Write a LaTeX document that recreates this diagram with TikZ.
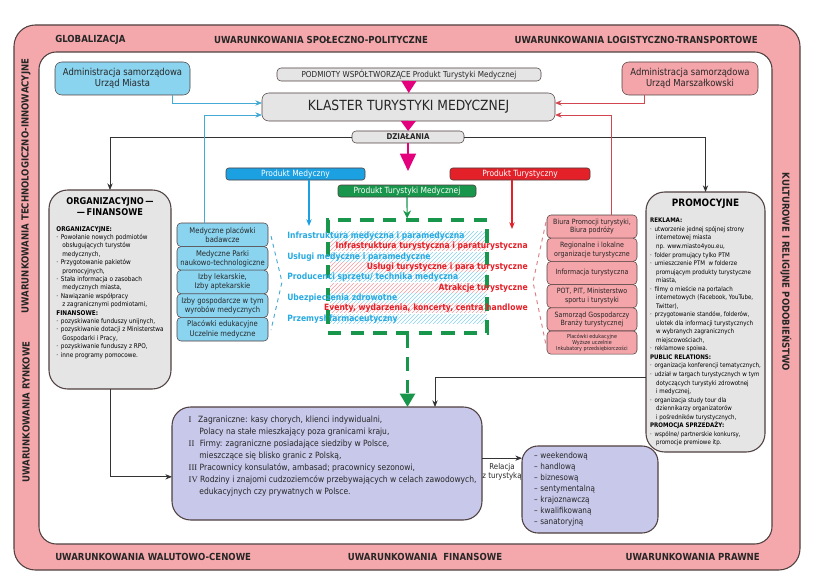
\documentclass[tikz,border=0pt]{standalone}
\usepackage{fontspec}
\setmainfont{DejaVu Sans}[FakeStretch=0.88]
\newfontfamily\szeryf{Liberation Serif}
\usetikzlibrary{positioning,calc,patterns,arrows.meta}

\definecolor{ramka}{RGB}{245,168,172}
\definecolor{obrys}{RGB}{80,64,64}
\definecolor{jnieb}{RGB}{138,212,240}
\definecolor{nieb}{RGB}{27,160,226}
\definecolor{tnieb}{RGB}{41,171,226}
\definecolor{lnieb}{RGB}{70,170,215}
\definecolor{czer}{RGB}{228,32,40}
\definecolor{lczer}{RGB}{210,70,80}
\definecolor{rozowy}{RGB}{244,165,170}
\definecolor{ziel}{RGB}{24,150,76}
\definecolor{szary}{RGB}{229,229,229}
\definecolor{fiolet}{RGB}{200,200,234}
\definecolor{roz}{RGB}{228,0,125}

\newcommand{\rozm}[2]{\fontsize{#1}{#2}\selectfont}
\newcommand{\kr}{·\hspace{2pt}}
\newcommand{\wc}{\hspace*{4.5pt}}

\begin{document}
\begin{tikzpicture}[x=0.75pt, y=-0.75pt,
  main/.style = {draw=obrys, rounded corners=3pt, inner sep=1pt, align=center, outer sep=0pt, text=black!85},
  sz/.style = {main, fill=szary},
  med/.style = {main, fill=jnieb, minimum width=68.25pt, minimum height=17.7pt, font=\rozm{5.8}{6.8}},
  tur/.style = {main, fill=rozowy, minimum width=67.5pt, minimum height=17.4pt, font=\rozm{5.4}{6.4}},
  prod/.style = {draw=obrys, rounded corners=2pt, text=white, minimum height=9pt, inner sep=0pt, outer sep=0pt, font=\rozm{6.4}{7}},
  tyt/.style = {font=\bfseries\rozm{7.3}{8}, text=black!85, inner sep=0pt},
  tekst/.style = {font=\bfseries\rozm{6.5}{7}, inner sep=0pt},
  strz/.style = {draw=roz, line width=1.2pt},
  lin/.style = {draw=black!80, line width=0.6pt, -{Stealth[length=5pt,width=4pt]}},
  nlin/.style = {draw=lnieb, line width=0.6pt, -{Stealth[length=5pt,width=4pt]}},
  clin/.style = {draw=lczer, line width=0.6pt, -{Stealth[length=5pt,width=4pt]}}]

\useasboundingbox (0,0) rectangle (822,585);
\fill[white] (0,0) rectangle (822,585);

% ramka uwarunkowan
\draw[obrys, fill=ramka, line width=0.8pt, rounded corners=16pt] (14,25) rectangle (800,570);
\draw[obrys, fill=white, line width=0.8pt, rounded corners=13pt] (39,52) rectangle (772,544);

\node[tyt, anchor=west] (g1) at (55,40) {GLOBALIZACJA};
\node[tyt] (g2) at (321,40) {UWARUNKOWANIA SPOŁECZNO-POLITYCZNE};
\node[tyt, anchor=east] (g3) at (758,40) {UWARUNKOWANIA LOGISTYCZNO-TRANSPORTOWE};
\node[tyt, anchor=west] (d1) at (55,557) {UWARUNKOWANIA WALUTOWO-CENOWE};
\node[tyt] (d2) at (425,557) {UWARUNKOWANIA \ FINANSOWE};
\node[tyt, anchor=east] (d3) at (760,557) {UWARUNKOWANIA PRAWNE};
\node[tyt, rotate=90] (l1) at (26,186) {UWARUNKOWANIA TECHNOLOGICZNO-INNOWACYJNE};
\node[tyt, rotate=90] (l2) at (26,412) {UWARUNKOWANIA RYNKOWE};
\node[tyt, rotate=-90] (p1) at (786,272) {KULTUROWE I RELIGIJNE PODOBIEŃSTWO};

% gora
\node[main, fill=jnieb, rounded corners=5pt, minimum width=101.25pt, minimum height=24.75pt, font=\rozm{7.2}{8.6}] (miasto) at (122.5,78.5) {Administracja samorządowa\\Urząd Miasta};
\node[main, fill=rozowy, rounded corners=5pt, minimum width=102pt, minimum height=24.75pt, font=\rozm{7.2}{8.6}] (marsz) at (690,78.5) {Administracja samorządowa\\Urząd Marszałkowski};
\node[sz, minimum width=198pt, minimum height=9.75pt, inner sep=0pt, font=\rozm{6.2}{7}] (podm) at (409,74.5) {PODMIOTY WSPÓŁTWORZĄCE Produkt Turystyki Medycznej};
\node[sz, rounded corners=5pt, minimum width=219.75pt, minimum height=21pt, font=\rozm{10.5}{12}] (klaster) at (408.5,107) {KLASTER TURYSTYKI MEDYCZNEJ};
\node[sz, minimum width=84pt, minimum height=9pt, inner sep=0pt, font=\bfseries\rozm{6}{7}] (dzial) at (408,137) {DZIAŁANIA};
\coordinate (dcel) at (408,171);

% dzialania organizacyjno-finansowe
\node[sz, rounded corners=14pt, line width=0.8pt, minimum width=91.5pt, minimum height=149.25pt] (org) at (110,289.5) {};
\node[font=\bfseries\rozm{7}{8.3}, align=center, below=2pt of org.north] (orgh) {ORGANIZACYJNO\,—\\—\,FINANSOWE};
\node[font=\rozm{4.9}{6.3}, align=left, below=1pt of orgh] (orgl) {\textbf{ORGANIZACYJNE:}\\
\kr Powołanie nowych podmiotów\\
\wc obsługujących turystów\\
\wc medycznych,\\
\kr Przygotowanie pakietów\\
\wc promocyjnych,\\
\kr Stała informacja o zasobach\\
\wc medycznych miasta,\\
\kr Nawiązanie współpracy\\
\wc z zagranicznymi podmiotami,\\
\textbf{FINANSOWE:}\\
\kr pozyskiwanie funduszy unijnych,\\
\kr pozyskiwanie dotacji z Ministerstwa\\
\wc Gospodarki i Pracy,\\
\kr pozyskiwanie funduszy z RPO,\\
\kr inne programy pomocowe.};

% dzialania promocyjne
\node[sz, rounded corners=14pt, line width=0.8pt, minimum width=89.25pt, minimum height=195pt] (prom) at (705.5,322) {};
\node[font=\bfseries\rozm{7.6}{9}, below=2pt of prom.north] (promh) {PROMOCYJNE};
\node[font=\rozm{4.7}{6.4}, align=left, below=0pt of promh] (proml) {\textbf{REKLAMA:}\\
\kr utworzenie jednej spójnej strony\\
\wc internetowej miasta\\
\wc np. www.miasto4you.eu,\\
\kr folder promujący tylko PTM\\
\kr umieszczenie PTM \ w folderze\\
\wc promującym produkty turystyczne\\
\wc miasta,\\
\kr filmy o mieście na portalach\\
\wc internetowych (Facebook, YouTube,\\
\wc Twitter),\\
\kr przygotowanie standów, folderów,\\
\wc ulotek dla informacji turystycznych\\
\wc w wybranych zagranicznych\\
\wc miejscowościach,\\
\kr reklamowe spoiwa.\\
\textbf{PUBLIC RELATIONS:}\\
\kr organizacja konferencji tematycznych,\\
\kr udział w targach turystycznych w tym\\
\wc dotyczących turystyki zdrowotnej\\
\wc i medycznej,\\
\kr organizacja study tour dla\\
\wc dziennikarzy organizatorów\\
\wc i pośredników turystycznych,\\
\textbf{PROMOCJA SPRZEDAŻY:}\\
\kr wspólne/ partnerskie konkursy,\\
\wc promocje premiowe itp.};

% produkty
\node[prod, fill=nieb, minimum width=104.25pt] (pmed) at (295.5,174) {Produkt Medyczny};
\node[prod, fill=czer, minimum width=105pt] (ptur) at (520,174) {Produkt Turystyczny};
\node[prod, fill=ziel, minimum width=103.5pt] (ptm) at (407,191) {Produkt Turystyki Medycznej};
\coordinate (cm) at (309,226);
\coordinate (ct) at (512,229);

% pasy w tle
\foreach \y in {236,257,277,298,319}
  \fill[pattern=north east lines, pattern color=tnieb!55] (330,\y-4.5) rectangle (487,\y+4.5);
\foreach \y in {246,267,288,308}
  \fill[pattern=north east lines, pattern color=czer!45] (330,\y-4.5) rectangle (487,\y+4.5);

\node[draw=ziel, line width=2.4pt, dash pattern=on 10pt off 7pt, minimum width=119.25pt, minimum height=84.75pt] (pole) at (407.5,276.5) {};

\node[tekst, text=tnieb, anchor=west] (m1) at (287,236) {Infrastruktura medyczna i paramedyczna};
\node[tekst, text=czer, anchor=east] (t1) at (528,246) {Infrastruktura turystyczna i paraturystyczna};
\node[tekst, text=tnieb, anchor=west] (m2) at (287,257) {Usługi medyczne i paramedyczne};
\node[tekst, text=czer, anchor=east] (t2) at (528,267) {Usługi turystyczne i para turystyczne};
\node[tekst, text=tnieb, anchor=west] (m3) at (287,277) {Producenci sprzętu/ technika medyczna};
\node[tekst, text=czer, anchor=east] (t3) at (528,288) {Atrakcje turystyczne};
\node[tekst, text=tnieb, anchor=west] (m4) at (287,298) {Ubezpieczenia zdrowotne};
\node[tekst, text=czer, anchor=east] (t4) at (528,308) {Eventy, wydarzenia, koncerty, centra handlowe};
\node[tekst, text=tnieb, anchor=west] (m5) at (287,319) {Przemysł farmaceutyczny};

% podmioty medyczne
\node[med] (b1) at (222.5,234.8) {Medyczne placówki\\badawcze};
\node[med, below=0pt of b1] (b2) {Medyczne Parki\\naukowo-technologiczne};
\node[med, below=0pt of b2] (b3) {Izby lekarskie,\\Izby aptekarskie};
\node[med, below=0pt of b3] (b4) {Izby gospodarcze w tym\\wyrobów medycznych};
\node[med, below=0pt of b4] (b5) {Placówki edukacyjne\\Uczelnie medyczne};

% podmioty turystyczne
\node[tur] (r1) at (592,226.6) {Biura Promocji turystyki,\\Biura podróży};
\node[tur, below=0pt of r1] (r2) {Regionalne i lokalne\\organizacje turystyczne};
\node[tur, below=0pt of r2] (r3) {Informacja turystyczna};
\node[tur, below=0pt of r3] (r4) {POT, PIT, Ministerstwo\\sportu i turystyki};
\node[tur, below=0pt of r4] (r5) {Samorząd Gospodarczy\\Branży turystycznej};
\node[tur, below=0pt of r5, font=\rozm{4.1}{4.6}] (r6) {Placówki edukacyjne\\Wyższe uczelnie\\Inkubatory przedsiębiorczości};

\draw[lnieb, dashed, line width=0.7pt] (271,236) -- (282,282) -- (271,330);
\draw[lczer!70, dashed, line width=0.7pt] (546,222) -- (533,282) -- (546,345);

% klienci
\node[main, fill=fiolet, rounded corners=14pt, line width=0.8pt, minimum width=232.5pt, minimum height=84.75pt] (fiol) at (327,463.5) {};
\node[font=\rozm{6.45}{9}, align=left, anchor=north west, text=black!85] (fiolt) at (184,411) {{\szeryf I}\hspace{5pt}Zagraniczne: kasy chorych, klienci indywidualni,\\
\hspace*{8pt}Polacy na stałe mieszkający poza granicami kraju,\\
{\szeryf II}\hspace{4pt}Firmy: zagraniczne posiadające siedziby w Polsce,\\
\hspace*{8pt}mieszczące się blisko granic z Polską,\\
{\szeryf III} Pracownicy konsulatów, ambasad; pracownicy sezonowi,\\
{\szeryf IV} Rodziny i znajomi cudzoziemców przebywających w celach zawodowych,\\
\hspace*{8pt}edukacyjnych czy prywatnych w Polsce.};
\node[main, fill=fiolet, rounded corners=12pt, line width=0.8pt, minimum width=102pt, minimum height=65.25pt, text width=84pt, inner xsep=9pt, align=left, font=\rozm{6.2}{8.25}] (rel) at (590,489.5) {– weekendową\\– handlową\\– biznesową\\– sentymentalną\\– krajoznawczą\\– kwalifikowaną\\– sanatoryjną};

% polaczenia
\draw[strz, -{Triangle[width=11pt,length=9pt]}] (podm) -- (klaster);
\draw[strz, -{Triangle[width=11pt,length=7.5pt]}] (klaster) -- (dzial);
\draw[strz, -{Triangle[width=12pt,length=13pt]}] (dzial) -- (dcel);
\draw[lin] (dzial.west) -| (org.north);
\draw[lin] (dzial.east) -| (prom.north);
\draw[nlin] ([xshift=-13.5pt]miasto.south east) |- ([yshift=3pt]klaster.west);
\draw[nlin] ([xshift=-13.9pt]b1.north) |- ([yshift=-6pt]klaster.west);
\draw[clin] ([xshift=16.5pt]marsz.south west) |- ([yshift=3pt]klaster.east);
\draw[clin] ([xshift=14.25pt]r1.north) |- ([yshift=-6pt]klaster.east);
\draw[nlin, draw=nieb, line width=0.9pt] (pmed.south -| cm) -- (cm);
\draw[clin, draw=czer, line width=0.9pt] (ptur.south -| ct) -- (ct);
\draw[ziel, line width=0.9pt, -{Stealth[length=6pt,width=6pt]}] (ptm) -- (pole);
\draw[ziel, line width=2.4pt, dash pattern=on 10pt off 7pt, -{Triangle[width=11pt,length=10pt]}] (pole.south) -- (pole.south |- fiol.north);
\draw[lin] (org.south) |- ([yshift=-10pt]fiol.west);
\draw[lin] ([yshift=-41.25pt]prom.west) -| ([xshift=81pt]fiol.north);
\draw[lin] ([yshift=4pt]fiol.east) -- ([yshift=23.5pt]rel.west) node[midway, below, font=\rozm{6}{7}, align=center, text=black!85] (relacja) {Relacja\\z turystyką};
\end{tikzpicture}
\end{document}
